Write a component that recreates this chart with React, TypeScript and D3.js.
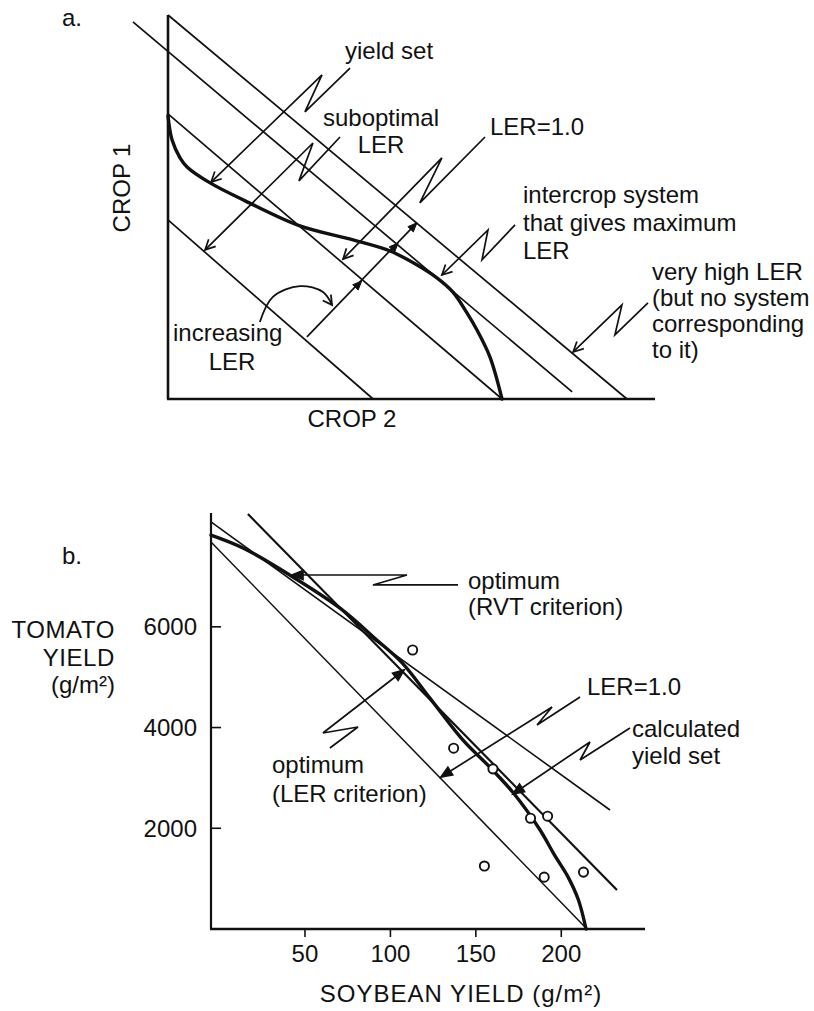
import React from "react";
import * as d3 from "d3";

type P = [number, number];

// ---------------- Panel a (schematic, units relative to sole-crop yields) ----------------
const aLineVeryHigh: P[] = [[0, 1.347], [1.374, 0]];
const aLineMaxLER: P[] = [[-0.105, 1.323], [1.21, 0.025]];
const aLineLER1: P[] = [[0, 1.0], [1.0, 0]];
const aLineSubopt: P[] = [[0, 0.628], [0.614, 0]];
const aYieldSet: P[] = [
  [0, 0.993], [0.012, 0.909], [0.036, 0.846], [0.057, 0.814], [0.126, 0.758],
  [0.231, 0.695], [0.395, 0.607], [0.554, 0.558], [0.665, 0.519], [0.746, 0.47],
  [0.805, 0.425], [0.853, 0.375], [0.895, 0.302], [0.925, 0.242], [0.964, 0.147], [1.0, 0],
];
// lightning-bolt leaders: text end, zig bottom, zig top, arrow tip
const aBoltYield: P[] = [[0.545, 1.161], [0.41, 1.007], [0.461, 1.137], [0.129, 0.761]];
const aBoltSubopt: P[] = [[0.515, 0.919], [0.392, 0.765], [0.434, 0.898], [0.111, 0.523]];
const aBoltLER1: P[] = [[0.949, 0.919], [0.754, 0.688], [0.82, 0.846], [0.524, 0.491]];
const aBoltMax: P[] = [[1.039, 0.611], [0.94, 0.488], [0.958, 0.593], [0.82, 0.435]];
const aBoltVeryHigh: P[] = [[1.437, 0.337], [1.338, 0.225], [1.359, 0.33], [1.213, 0.165]];
const aIncStart: P = [0.416, 0.218];
const aIncTips: P[] = [[0.58, 0.414], [0.689, 0.547], [0.745, 0.618]];
const aIncCurve: P[] = [[0.275, 0.27], [0.314, 0.358], [0.395, 0.396], [0.464, 0.375], [0.491, 0.33]];

// ---------------- Panel b (soybean g/m2, tomato g/m2) ----------------
const bObsSoy = [113, 137, 160, 182, 192, 155, 190, 213];
const bObsTom = [5540, 3590, 3180, 2200, 2240, 1250, 1030, 1130];
const bCurve: P[] = [
  [-5, 7820], [14, 7560], [41, 7030], [70.5, 6370], [92, 5740], [107, 5280], [123, 4590],
  [142.5, 3750], [158, 3220], [172, 2700], [187.5, 1970], [196, 1470], [204, 1030], [210, 580], [214.5, 0],
];
const bLineLER1: P[] = [[-5, 7685], [215, 0]];
const bLineLERopt: P[] = [[16.6, 8240], [232.6, 774]];
const bLineRVT: P[] = [[-5, 8082], [228.5, 2363]];
const bBoltRVT: P[] = [[139.6, 6831], [89.8, 6831], [109.7, 7029], [42.4, 7029]];
const bBoltLERopt: P[] = [[64.6, 3594], [81, 4011], [60.5, 3892], [108, 5143]];
const bBoltLER1: P[] = [[211, 4607], [185.8, 4051], [194.6, 4408], [129.6, 3018]];
const bBoltCalc: P[] = [[240.2, 3991], [211, 3356], [216.8, 3713], [171.7, 2681]];
const bXTicks = [50, 100, 150, 200];
const bYTicks = [2000, 4000, 6000];

const FONT = "'Liberation Sans', Arial, Helvetica, sans-serif";
const INK = "#111";

function head(tip: P, from: P, len: number, hw: number, closed: boolean) {
  const dx = tip[0] - from[0], dy = tip[1] - from[1];
  const d = Math.hypot(dx, dy) || 1;
  const ux = dx / d, uy = dy / d;
  const bxp = tip[0] - ux * len, byp = tip[1] - uy * len;
  const nx = -uy, ny = ux;
  const p1 = [bxp + nx * hw, byp + ny * hw];
  const p2 = [bxp - nx * hw, byp - ny * hw];
  return `M${p1[0]},${p1[1]}L${tip[0]},${tip[1]}L${p2[0]},${p2[1]}${closed ? "Z" : ""}`;
}

export default function App() {
  const ax = d3.scaleLinear().domain([0, 1.458]).range([168, 655]);
  const ay = d3.scaleLinear().domain([0, 1.347]).range([399, 15]);
  const bx = d3.scaleLinear().domain([-5, 249]).range([211, 645]);
  const by = d3.scaleLinear().domain([0, 8260]).range([929, 513]);

  const la = d3.line<P>().x((d) => ax(d[0])).y((d) => ay(d[1]));
  const laC = d3.line<P>().x((d) => ax(d[0])).y((d) => ay(d[1])).curve(d3.curveCatmullRom.alpha(0.5));
  const lb = d3.line<P>().x((d) => bx(d[0])).y((d) => by(d[1]));
  const lbC = d3.line<P>().x((d) => bx(d[0])).y((d) => by(d[1])).curve(d3.curveCatmullRom.alpha(0.5));

  const pa = (p: P): P => [ax(p[0]), ay(p[1])];
  const pb = (p: P): P => [bx(p[0]), by(p[1])];

  const bolt = (pts: P[], map: (p: P) => P, line: any, closed: boolean, key: string) => {
    const n = pts.length;
    return (
      <g key={key}>
        <path d={line(pts)} fill="none" stroke={INK} strokeWidth={1.7} strokeLinejoin="miter" />
        <path
          d={head(map(pts[n - 1]), map(pts[n - 2]), closed ? 11 : 10, closed ? 4.5 : 5, closed)}
          fill={closed ? INK : "none"}
          stroke={INK}
          strokeWidth={1.7}
        />
      </g>
    );
  };

  const txt = (s: string, x: number, y: number, anchor: string = "start", key?: string, ls: number = 0) => (
    <text
      key={key ?? s + x + y}
      x={x}
      y={y}
      textAnchor={anchor as any}
      fontFamily={FONT}
      fontSize={24}
      letterSpacing={ls}
      fill={INK}
    >
      {s}
    </text>
  );

  const incStartPx = pa(aIncStart);
  const incLast = pa(aIncTips[aIncTips.length - 1]);
  const curvePx = aIncCurve.map(pa);

  return (
    <svg width={814} height={1011} style={{ position: "absolute", left: 0, top: 0, background: "#fff" }}>
      <rect x={0} y={0} width={814} height={1011} fill="#fff" />
      {/* ---------------- Panel a ---------------- */}
      {txt("a.", 62, 26)}
      <line x1={ax(0)} y1={ay(0)} x2={ax(0)} y2={ay(1.347)} stroke={INK} strokeWidth={2.6} />
      <line x1={ax(0) - 1} y1={ay(0)} x2={ax(1.458)} y2={ay(0)} stroke={INK} strokeWidth={2.6} />
      {[aLineVeryHigh, aLineMaxLER, aLineLER1, aLineSubopt].map((l, i) => (
        <path key={"al" + i} d={la(l) as string} fill="none" stroke={INK} strokeWidth={1.7} />
      ))}
      <path d={laC(aYieldSet) as string} fill="none" stroke={INK} strokeWidth={3.4} strokeLinecap="round" />
      {bolt(aBoltYield, pa, la, false, "b1")}
      {bolt(aBoltSubopt, pa, la, false, "b2")}
      {bolt(aBoltLER1, pa, la, false, "b3")}
      {bolt(aBoltMax, pa, la, false, "b4")}
      {bolt(aBoltVeryHigh, pa, la, false, "b5")}
      <line x1={incStartPx[0]} y1={incStartPx[1]} x2={incLast[0]} y2={incLast[1]} stroke={INK} strokeWidth={1.7} />
      {aIncTips.map((t, i) => (
        <path key={"it" + i} d={head(pa(t), incStartPx, 9, 3.8, true)} fill={INK} stroke={INK} strokeWidth={1} />
      ))}
      <path d={laC(aIncCurve) as string} fill="none" stroke={INK} strokeWidth={1.8} />
      <path
        d={head(curvePx[curvePx.length - 1], curvePx[curvePx.length - 2], 9, 5, false)}
        fill="none"
        stroke={INK}
        strokeWidth={1.8}
      />
      <text transform="translate(130,188) rotate(-90)" textAnchor="middle" fontFamily={FONT} fontSize={24} fill={INK}>
        CROP 1
      </text>
      {txt("CROP 2", 352, 427, "middle")}
      {txt("yield set", 345, 59)}
      {txt("suboptimal", 381, 126, "middle")}
      {txt("LER", 381, 153, "middle", "lerS")}
      {txt("LER=1.0", 490, 135)}
      {txt("intercrop system", 523, 203)}
      {txt("that gives maximum", 523, 231)}
      {txt("LER", 523, 259, "start", "lerM")}
      {txt("very high LER", 652, 280)}
      {txt("(but no system", 652, 306)}
      {txt("corresponding", 652, 332)}
      {txt("to it)", 652, 358)}
      {txt("increasing", 173, 341)}
      {txt("LER", 232, 370, "middle", "lerI")}

      {/* ---------------- Panel b ---------------- */}
      {txt("b.", 62, 564)}
      <line x1={bx(-5)} y1={by(0)} x2={bx(-5)} y2={by(8260)} stroke={INK} strokeWidth={2.2} />
      <line x1={bx(-5) - 1} y1={by(0)} x2={bx(249)} y2={by(0)} stroke={INK} strokeWidth={2.4} />
      {bXTicks.map((v) => (
        <g key={"xt" + v}>
          <line x1={bx(v)} y1={by(0)} x2={bx(v)} y2={by(0) + 8} stroke={INK} strokeWidth={1.6} />
          {txt(String(v), bx(v), 962, "middle", "xl" + v)}
        </g>
      ))}
      {bYTicks.map((v) => (
        <g key={"yt" + v}>
          <line x1={bx(-5)} y1={by(v)} x2={bx(-5) + 10} y2={by(v)} stroke={INK} strokeWidth={1.6} />
          {txt(String(v), 197, by(v) + 8.5, "end", "yl" + v)}
        </g>
      ))}
      <path d={lb(bLineLER1) as string} fill="none" stroke={INK} strokeWidth={1.5} />
      <path d={lb(bLineLERopt) as string} fill="none" stroke={INK} strokeWidth={2.2} />
      <path d={lb(bLineRVT) as string} fill="none" stroke={INK} strokeWidth={1.6} />
      <path d={lbC(bCurve) as string} fill="none" stroke={INK} strokeWidth={3.4} strokeLinecap="round" />
      {bolt(bBoltRVT, pb, lb, true, "c1")}
      {bolt(bBoltLERopt, pb, lb, true, "c2")}
      {bolt(bBoltLER1, pb, lb, true, "c3")}
      {bolt(bBoltCalc, pb, lb, true, "c4")}
      {bObsSoy.map((s, i) => (
        <circle key={"o" + i} cx={bx(s)} cy={by(bObsTom[i])} r={4.6} fill="#fff" stroke={INK} strokeWidth={1.9} />
      ))}
      {txt("TOMATO", 115, 638, "end", "tm", 0.6)}
      {txt("YIELD", 115, 666, "end", "yY", 0.6)}
      {txt("(g/m²)", 115, 693, "end", "yU")}
      {txt("SOYBEAN YIELD (g/m²)", 461, 1002, "middle", "xt", 1)}
      {txt("optimum", 468, 589, "start", "o1")}
      {txt("(RVT criterion)", 468, 615)}
      {txt("optimum", 272, 773, "start", "o2")}
      {txt("(LER criterion)", 272, 802)}
      {txt("LER=1.0", 587, 695, "start", "lb1")}
      {txt("calculated", 632, 737)}
      {txt("yield set", 632, 764, "start", "ys2")}
    </svg>
  );
}
